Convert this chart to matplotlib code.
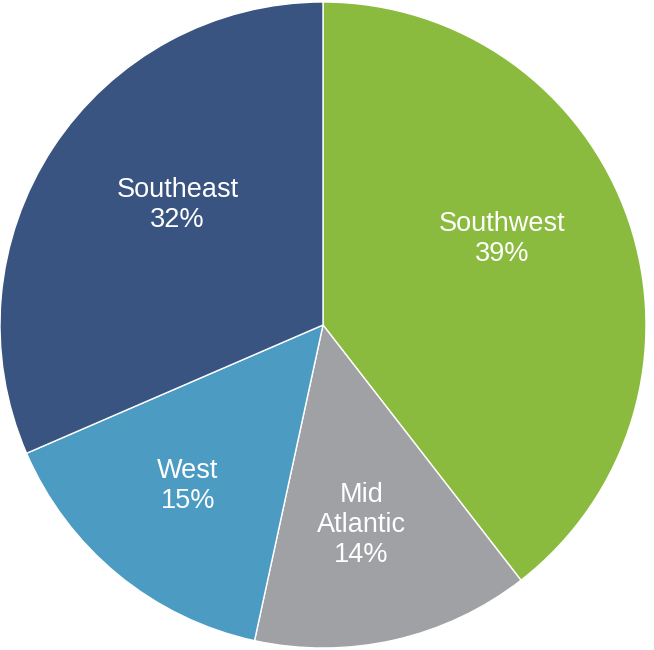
import matplotlib.pyplot as plt
import numpy as np

regions = ['Southwest', 'Mid\nAtlantic', 'West', 'Southeast']
shares = [39.5, 13.9, 15.1, 31.5]   # wedge sizes as drawn
pct_labels = [39, 14, 15, 32]       # rounded values printed on the chart
colors = ['#8BBB3E', '#A0A1A5', '#4B9BC3', '#3A5482']

# label centres, in units of the pie radius
label_x = [0.554, 0.119, -0.418, -0.450]
label_y = [0.265, -0.618, -0.500, 0.370]

plt.rcParams['font.family'] = ['Liberation Sans', 'DejaVu Sans']

fig = plt.figure(figsize=(6.54, 6.5), dpi=100)
ax = fig.add_axes([0, 0, 1, 1])
ax.axis('off')

ax.pie(shares, colors=colors, startangle=90, counterclock=False,
       radius=1.0, wedgeprops=dict(edgecolor='white', linewidth=1.0))

for name, val, x, y in zip(regions, pct_labels, label_x, label_y):
    ax.text(x, y, '%s\n%d%%' % (name, val), color='white', fontsize=19.5,
            ha='center', va='center', linespacing=1.2)

ax.set_aspect('auto')
ax.set_xlim(-1.0, 331/323)
ax.set_ylim(-325/323, 325/323)

fig.savefig('out.png', dpi=100, facecolor='white')
